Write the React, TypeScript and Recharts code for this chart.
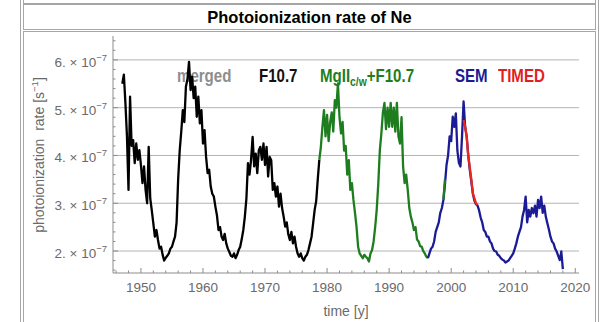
import { LineChart, Line, XAxis, YAxis, CartesianGrid } from "recharts";

// quarter-year sampling, rates in units of 1e-7 s^-1
const STEP = 0.25;

const f107Start = 1947;
const f107Rate = [
  5.5, 5.69, 5.1, 4.4,
  3.28, 5.23, 4.2, 4.32,
  3.84, 4.25, 3.91, 4.11,
  3.8, 3.42, 3.77, 3.28,
  3.0, 4.18, 3.1, 2.85,
  2.58, 2.3, 2.44, 2.23,
  2.05, 2.09, 1.92, 1.8,
  1.86, 1.9, 1.95, 2.05,
  2.09, 2.2, 2.3, 2.6,
  3.5, 4.1, 4.5, 4.95,
  4.7, 5.44, 5.6, 5.96,
  5.37, 5.65, 5.2, 5.44,
  4.81, 5.23, 4.67, 4.95,
  4.25, 4.53, 3.97, 3.63,
  3.7, 3.35, 3.2, 3.14,
  2.93, 2.75, 2.44, 2.5,
  2.3, 2.23, 2.36, 2.16,
  2.05, 1.98, 1.9, 1.88,
  1.95, 1.85, 1.92, 2.02,
  2.09, 2.25, 2.44, 2.72,
  3.1, 3.84, 3.6, 3.91,
  4.39, 3.77, 4.04, 3.63,
  4.11, 4.18, 3.91, 4.25,
  3.8, 4.18, 3.56, 3.97,
  3.9, 3.28, 3.42, 3.14,
  3.35, 2.93, 3.2, 2.9,
  2.72, 2.51, 2.6, 2.35,
  2.23, 2.4, 2.16, 2.3,
  2.09, 1.95, 1.88, 1.95,
  1.85, 1.8, 1.88, 1.92,
  2.02, 2.16, 2.3, 2.58,
  2.86, 3.05, 3.5, 3.91,
];

const mgiiStart = 1978.75;
const mgiiRate = [
  3.91,
  4.18, 4.6, 4.95, 4.4,
  4.85, 4.3, 4.7, 4.9,
  4.5, 5.16, 5.0, 5.51,
  4.8, 4.46, 4.7, 4.1,
  4.2, 3.6, 3.9, 3.28,
  3.42, 3.07, 2.8, 2.5,
  2.09, 1.95, 1.9, 1.85,
  1.92, 1.88, 1.85, 1.78,
  1.95, 2.02, 2.2, 2.5,
  2.86, 3.4, 4.1, 4.46,
  4.9, 5.1, 4.55, 5.0,
  4.6, 5.1, 4.6, 5.0,
  4.5, 5.1, 4.4, 4.25,
  4.8, 3.77, 3.42, 3.6,
  3.28, 2.9, 2.72, 2.6,
  2.44, 2.5, 2.24, 2.2,
  2.1, 2.09, 2.0, 1.95,
  1.88, 1.85,
];

const mgiiBitStart = 1998.75;
const mgiiBitRate = [3.07, 3.5];

const semStart = 1996.25;
const semRate = [
  1.85, 1.95, 2.05,
  2.09, 2.2, 2.4, 2.5,
  2.6, 2.8, 2.9, 3.07,
  3.4, 3.8, 4.0, 4.4,
  4.3, 4.81, 4.6, 4.88,
  4.1, 3.84, 3.77, 4.4,
  5.13, 4.6, 4.4, 4.0,
  3.7, 3.45, 3.2, 3.05,
  2.98, 2.95, 2.85, 2.7,
  2.6, 2.44, 2.4, 2.3,
  2.3, 2.2, 2.16, 2.05,
  2.0, 1.99, 1.92, 1.9,
  1.85, 1.82, 1.8, 1.76,
  1.78, 1.8, 1.85, 1.9,
  1.95, 2.05, 2.16, 2.3,
  2.4, 2.5, 2.72, 2.86,
  3.14, 2.6, 2.86, 2.72,
  2.9, 2.79, 2.95, 2.72,
  3.07, 2.9, 3.14, 2.8,
  2.95, 2.72, 2.58, 2.45,
  2.3, 2.2, 2.16, 2.05,
  1.99, 1.9, 1.81, 1.99,
  1.62,
];

const timedStart = 2002;
const timedRate = [4.74, 4.6, 4.39, 4.0, 3.75, 3.5, 3.2, 3.1, 3.0, 2.96];

const xMajorTicks = [1950, 1960, 1970, 1980, 1990, 2000, 2010, 2020];
const yMajorTicks = [2, 3, 4, 5, 6];
// minor frame ticks: every 2 years, every 0.2 in rate
const xTicks = Array.from({ length: 38 }, (_, i) => 1946 + i * 2);
const yTicks = Array.from({ length: 25 }, (_, i) => (16 + i * 2) / 10);

const X_DOMAIN = [1945.5, 2020.6];
const Y_DOMAIN = [1.54, 6.5];

const FONT = '"Liberation Sans", Arial, sans-serif';
const FRAME = "#8c8c8c";
const GRID = "#b4b4b4";
const TEXT = "#6a6a6a";
const BORDER = "#a6a6a6";

type Row = {
  year: number;
  f107?: number;
  mgii?: number;
  mgiiBit?: number;
  sem?: number;
  timed?: number;
};

const rowMap = new Map<number, Row>();
const put = (start: number, values: number[], key: Exclude<keyof Row, "year">) => {
  values.forEach((v, i) => {
    const k = Math.round(start / STEP) + i;
    const row = rowMap.get(k) ?? { year: k * STEP };
    row[key] = v;
    rowMap.set(k, row);
  });
};
put(f107Start, f107Rate, "f107");
put(mgiiStart, mgiiRate, "mgii");
put(mgiiBitStart, mgiiBitRate, "mgiiBit");
put(semStart, semRate, "sem");
put(timedStart, timedRate, "timed");
const chartData = [...rowMap.entries()].sort((a, b) => a[0] - b[0]).map((e) => e[1]);

const isMajorX = (v: number) => xMajorTicks.includes(v);
const isMajorY = (v: number) => Math.abs(v - Math.round(v)) < 1e-6;

function BottomTick(props: any) {
  const { x, y, payload } = props;
  const v = payload.value;
  const major = isMajorX(v);
  return (
    <g>
      <line x1={x} x2={x} y1={y} y2={y - (major ? 5 : 2.5)} stroke={FRAME} />
      {major && (
        <text x={x} y={y + 19} textAnchor="middle" fontSize={13.5} fontFamily={FONT} fill={TEXT}>
          {v}
        </text>
      )}
    </g>
  );
}

function TopTick(props: any) {
  const { x, y, payload } = props;
  const major = isMajorX(payload.value);
  return <line x1={x} x2={x} y1={y} y2={y + (major ? 5 : 2.5)} stroke={FRAME} />;
}

function LeftTick(props: any) {
  const { x, y, payload } = props;
  const v = payload.value;
  const major = isMajorY(v);
  return (
    <g>
      <line x1={x} x2={x + (major ? 5 : 2.5)} y1={y} y2={y} stroke={FRAME} />
      {major && (
        <text x={x - 6} y={y + 7} textAnchor="end" fontSize={13.5} fontFamily={FONT} fill={TEXT}>
          {`${Math.round(v)}. × 10`}
          <tspan dy={-6} fontSize={9.5}>
            −7
          </tspan>
        </text>
      )}
    </g>
  );
}

function RightTick(props: any) {
  const { x, y, payload } = props;
  const major = isMajorY(payload.value);
  return <line x1={x} x2={x - (major ? 5 : 2.5)} y1={y} y2={y} stroke={FRAME} />;
}

const legendStyle = (left: number, color: string): React.CSSProperties => ({
  position: "absolute",
  left,
  top: 66,
  fontFamily: FONT,
  fontWeight: "bold",
  fontSize: 17.5,
  lineHeight: "20px",
  color,
  whiteSpace: "nowrap",
  transform: "scaleX(0.86)",
  transformOrigin: "left center",
});

const lineProps = {
  strokeWidth: 2.3,
  strokeLinejoin: "round" as const,
  dot: false,
  activeDot: false,
  isAnimationActive: false,
};

export default function App() {
  return (
    <div
      style={{
        position: "absolute",
        left: 0,
        top: 0,
        width: 606,
        height: 322,
        overflow: "hidden",
        background: "#fff",
        fontFamily: FONT,
      }}
    >
      {/* page table borders */}
      <div style={{ position: "absolute", left: 20, top: -10, width: 577, height: 340, border: `1px solid ${BORDER}` }} />
      <div style={{ position: "absolute", left: 23, top: -10, width: 571, height: 12, border: `1px solid ${BORDER}` }} />
      <div
        style={{
          position: "absolute",
          left: 23,
          top: 4,
          width: 571,
          height: 24,
          border: `1px solid ${BORDER}`,
          display: "flex",
          alignItems: "center",
          justifyContent: "center",
          fontWeight: "bold",
          fontSize: 16.5,
          color: "#000",
        }}
      >
        Photoionization rate of Ne
      </div>
      <div style={{ position: "absolute", left: 23, top: 31, width: 571, height: 320, border: `1px solid ${BORDER}` }} />

      {/* legend labels sit behind the curves */}
      <div style={legendStyle(177, "#8e8e8e")}>merged</div>
      <div style={legendStyle(259, "#111")}>F10.7</div>
      <div style={legendStyle(320, "#1e7d1e")}>
        MgII
        <span style={{ fontSize: 12, position: "relative", top: 4 }}>c/w</span>
        +F10.7
      </div>
      <div style={legendStyle(455, "#1b1b96")}>SEM</div>
      <div style={legendStyle(498, "#e41e1e")}>TIMED</div>

      {/* y axis title */}
      <div
        style={{
          position: "absolute",
          left: 38,
          top: 155,
          transform: "translate(-50%, -50%) rotate(-90deg)",
          fontSize: 14,
          color: TEXT,
          whiteSpace: "nowrap",
        }}
      >
        photoionization&nbsp; rate [s<sup style={{ fontSize: 9.5 }}>−1</sup>]
      </div>
      <div
        style={{
          position: "absolute",
          left: 346,
          top: 311,
          transform: "translate(-50%, -50%)",
          fontSize: 14,
          color: TEXT,
          whiteSpace: "nowrap",
        }}
      >
        time [y]
      </div>

      <div style={{ position: "absolute", left: 0, top: 0 }}>
        <LineChart width={606} height={322} data={chartData} margin={{ top: 36, right: 27, bottom: 0, left: 53 }}>
          <CartesianGrid horizontal vertical={false} horizontalValues={yMajorTicks} stroke={GRID} />
          <XAxis
            dataKey="year"
            type="number"
            domain={X_DOMAIN}
            allowDataOverflow
            ticks={xTicks}
            interval={0}
            height={49}
            tickSize={0}
            tickMargin={0}
            tickLine={false}
            axisLine={{ stroke: FRAME }}
            tick={<BottomTick />}
          />
          <XAxis
            xAxisId="top"
            orientation="top"
            dataKey="year"
            type="number"
            domain={X_DOMAIN}
            allowDataOverflow
            ticks={xTicks}
            interval={0}
            height={0}
            tickSize={0}
            tickMargin={0}
            tickLine={false}
            axisLine={{ stroke: FRAME }}
            tick={<TopTick />}
          />
          <YAxis
            type="number"
            domain={Y_DOMAIN}
            allowDataOverflow
            ticks={yTicks}
            interval={0}
            width={60}
            tickSize={0}
            tickMargin={0}
            tickLine={false}
            axisLine={{ stroke: FRAME }}
            tick={<LeftTick />}
          />
          <YAxis
            yAxisId="right"
            orientation="right"
            type="number"
            domain={Y_DOMAIN}
            allowDataOverflow
            ticks={yTicks}
            interval={0}
            width={0}
            tickSize={0}
            tickMargin={0}
            tickLine={false}
            axisLine={{ stroke: FRAME }}
            tick={<RightTick />}
          />
          <Line dataKey="f107" stroke="#000" {...lineProps} />
          <Line dataKey="mgii" stroke="#1e7d1e" {...lineProps} />
          <Line dataKey="sem" stroke="#1b1b96" {...lineProps} />
          <Line dataKey="mgiiBit" stroke="#1e7d1e" {...lineProps} />
          <Line dataKey="timed" stroke="#e8281e" {...lineProps} />
        </LineChart>
      </div>
    </div>
  );
}
